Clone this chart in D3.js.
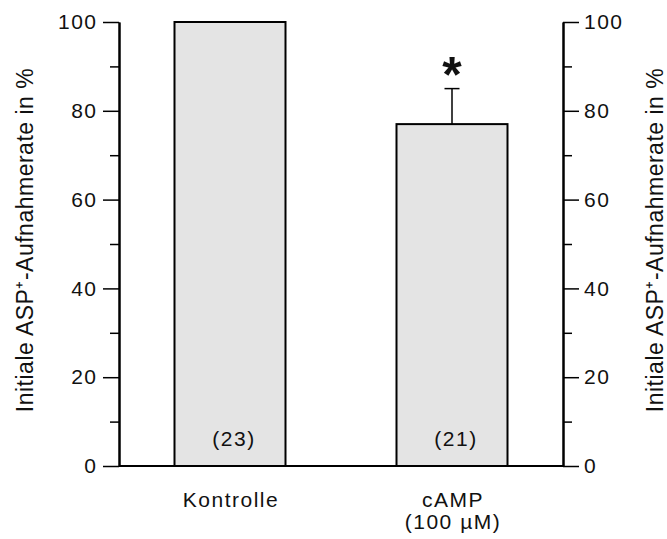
<!DOCTYPE html>
<html>
<head>
<meta charset="utf-8">
<script src="https://cdn.jsdelivr.net/npm/d3@7"></script>
<style>
  body { margin: 0; background: #fff; }
  text { font-family: "Liberation Sans", Arial, sans-serif; fill: #111; }
</style>
</head>
<body>
<svg id="chart" width="667" height="539"></svg>
<script>
// data
const categories = ['Kontrolle', 'cAMP']
const catLines = [['Kontrolle'], ['cAMP', '(100 µM)']]
const means = [100, 77]
const errors = [0, 8]
const counts = ['(23)', '(21)']
const significant = [false, true]
const majorTicks = [0, 20, 40, 60, 80, 100]
const minorTicks = [10, 30, 50, 70, 90]
const yLabel = 'Initiale ASP⁺-Aufnahmerate in %'

const svg = d3.select('#chart')
const plotL = 119, plotR = 563, plotT = 22, plotB = 466

const y = d3.scaleLinear().domain([0, 100]).range([plotB, plotT])
const x = d3.scalePoint().domain(categories).range([plotL, plotR]).padding(0.5)
const barW = 111

const styleAxis = (g) => {
    g.select('.domain').attr('stroke', '#000').attr('stroke-width', 2)
    g.selectAll('.tick line').attr('stroke', '#000').attr('stroke-width', 1.5)
    g.selectAll('.tick text')
        .style('font-size', '21px')
        .style('letter-spacing', '1.5px')
        .attr('fill', '#111')
}

// left axis
svg.append('g').attr('transform', `translate(${plotL},0)`)
    .call(d3.axisLeft(y).tickValues(minorTicks).tickSize(9).tickSizeOuter(0).tickFormat(''))
    .call(styleAxis)
svg.append('g').attr('transform', `translate(${plotL},0)`)
    .call(d3.axisLeft(y).tickValues(majorTicks).tickSize(16).tickSizeOuter(0).tickPadding(7))
    .call(styleAxis)
    .selectAll('.tick text').attr('dx', '1.5px')

// right axis
svg.append('g').attr('transform', `translate(${plotR},0)`)
    .call(d3.axisRight(y).tickValues(minorTicks).tickSize(9).tickSizeOuter(0).tickFormat(''))
    .call(styleAxis)
svg.append('g').attr('transform', `translate(${plotR},0)`)
    .call(d3.axisRight(y).tickValues(majorTicks).tickSize(16).tickSizeOuter(0).tickPadding(5))
    .call(styleAxis)

// baseline between axes
svg.append('line')
    .attr('x1', plotL).attr('x2', plotR)
    .attr('y1', y(0)).attr('y2', y(0))
    .attr('stroke', '#000').attr('stroke-width', 2)

// error bars (drawn under the bars)
const eb = svg.append('g')
categories.forEach((c, i) => {
    const cx = x(c)
    eb.append('line')
        .attr('x1', cx).attr('x2', cx)
        .attr('y1', y(means[i])).attr('y2', y(means[i] + errors[i]))
        .attr('stroke', '#000').attr('stroke-width', 1.5)
    eb.append('line')
        .attr('x1', cx - 7.5).attr('x2', cx + 7.5)
        .attr('y1', y(means[i] + errors[i])).attr('y2', y(means[i] + errors[i]))
        .attr('stroke', '#000').attr('stroke-width', 1.5)
})

// bars
svg.append('g').selectAll('rect')
    .data(categories)
    .enter()
    .append('rect')
    .attr('x', d => x(d) - barW / 2)
    .attr('width', barW)
    .attr('y', (d, i) => y(means[i]))
    .attr('height', (d, i) => y(0) - y(means[i]))
    .attr('fill', '#e4e4e4')
    .attr('stroke', '#000')
    .attr('stroke-width', 2)

// n in the bars
svg.append('g').selectAll('text')
    .data(categories)
    .enter()
    .append('text')
    .attr('x', d => x(d) + 4)
    .attr('y', plotB - 20)
    .attr('text-anchor', 'middle')
    .style('font-size', '21px')
    .style('letter-spacing', '1.5px')
    .text((d, i) => counts[i])

// significance star
svg.append('g').selectAll('text')
    .data(categories.filter((d, i) => significant[i]))
    .enter()
    .append('text')
    .attr('x', d => x(d))
    .attr('y', d => y(means[categories.indexOf(d)] + errors[categories.indexOf(d)]) + 3)
    .attr('text-anchor', 'middle')
    .style('font-size', '50px')
    .style('font-weight', 'bold')
    .text('*')

// category labels
categories.forEach((c, i) => {
    svg.append('g').selectAll('text')
        .data(catLines[i])
        .enter()
        .append('text')
        .attr('x', x(c) + 1)
        .attr('y', (d, j) => 507 + j * 22)
        .attr('text-anchor', 'middle')
        .style('font-size', '21px')
        .style('letter-spacing', '1.5px')
        .text(d => d)
})

// y labels on both sides
const midY = (plotT + plotB) / 2 - 4
;[33, 663].forEach(lx => {
    svg.append('text')
        .attr('transform', `translate(${lx},${midY}) rotate(-90)`)
        .attr('text-anchor', 'middle')
        .style('font-size', '23px')
        .style('letter-spacing', '0.5px')
        .text(yLabel)
})
</script>
</body>
</html>
